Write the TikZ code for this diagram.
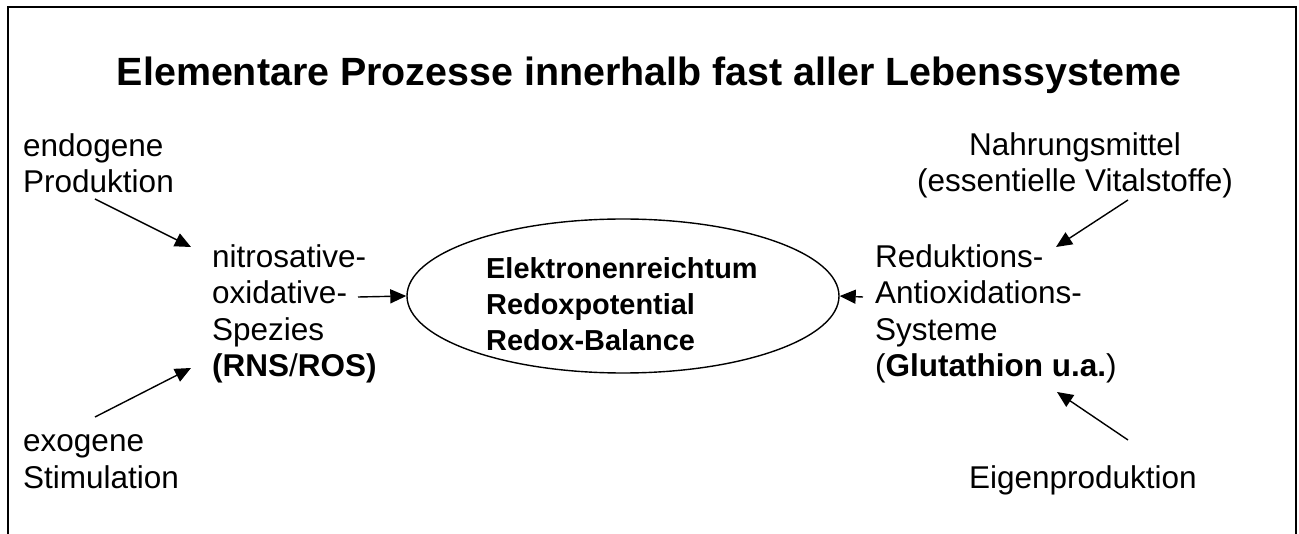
\documentclass[tikz,border=0pt]{standalone}
\usepackage{fontspec}
\setmainfont{Liberation Sans}
\usetikzlibrary{arrows.meta, positioning, shapes.geometric}

\begin{document}
\begin{tikzpicture}[
    x=1pt, y=-1pt,
    every node/.style={inner sep=0pt, font=\fontsize{31.5}{36.5}\selectfont},
    plain/.style={align=left, anchor=base west},
    core/.style={align=left, anchor=base west, font=\fontsize{28.9}{36}\selectfont\bfseries},
    feed/.style={-{Triangle[length=16pt, width=14pt]}, line width=1.4pt},
]
  \useasboundingbox (0,0) rectangle (1299,534);

  % Frame, open at the bottom
  \draw[line width=2pt] (7.5,534) -- (7.5,7.5) -- (1296,7.5) -- (1296,534);

  % Title
  \node[anchor=base, font=\fontsize{39.4}{45}\selectfont\bfseries] (title) at (649,86)
    {Elementare Prozesse innerhalb fast aller Lebenssysteme};

  % Centre (base = last line)
  \node[draw, ellipse, line width=1.4pt, minimum width=432pt, minimum height=154pt] (redox) at (623,296) {};
  \node[core] (redoxtext) at (486,351) {Elektronenreichtum\\Redoxpotential\\Redox-Balance};

  % Left side
  \node[plain] (endo) at (23,193) {endogene\\Produktion};
  \node[plain] (exo) at (23,488) {exogene\\Stimulation};
  \node[plain] (species) at (212,377)
    {nitrosative-\\oxidative-\\Spezies\\\textbf{(RNS}/\textbf{ROS)}};

  % Right side
  \node[anchor=base, align=center] (food) at (1075,192) {Nahrungsmittel\\(essentielle Vitalstoffe)};
  \node[anchor=base east] (own) at (1197,488) {Eigenproduktion};
  \node[plain] (systems) at (875,377)
    {Reduktions-\\Antioxidations-\\Systeme\\(\textbf{Glutathion u.a.})};

  % Arrow ends
  \coordinate (endo-tail) at (95,199);
  \coordinate (endo-head) at (191,247);
  \coordinate (exo-tail) at (95,417);
  \coordinate (exo-head) at (191,368);
  \coordinate (species-tail) at (358,297);
  \coordinate (systems-tail) at (863,297);
  \coordinate (food-tail) at (1128,200);
  \coordinate (food-head) at (1056,247);
  \coordinate (own-tail) at (1128,440);
  \coordinate (own-head) at (1057,392);

  % Arrows
  \draw[feed] (endo-tail) -- (endo-head);
  \draw[feed] (exo-tail) -- (exo-head);
  \draw[feed] (species-tail) -- (redox.west);
  \draw[feed] (systems-tail) -- (redox.east);
  \draw[feed] (food-tail) -- (food-head);
  \draw[feed] (own-tail) -- (own-head);
\end{tikzpicture}
\end{document}
